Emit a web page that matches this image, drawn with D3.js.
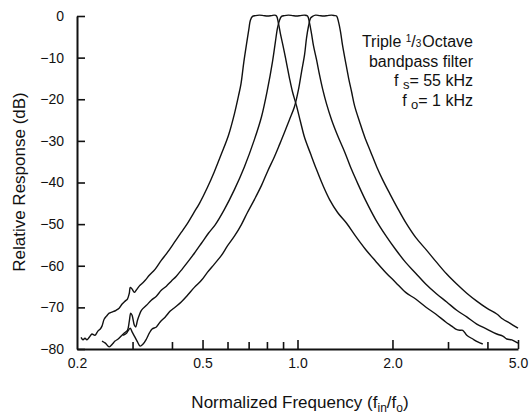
<!DOCTYPE html>
<html><head><meta charset="utf-8">
<script src="https://cdn.jsdelivr.net/npm/d3@7"></script>
<style>
html,body{margin:0;padding:0;background:#fff}
svg{display:block}
text{font-family:"Liberation Sans",Arial,Helvetica,sans-serif;fill:#111}
</style>
</head><body>
<svg id="chart" width="530" height="415"></svg>
<script>
// Each curve: [normalized frequency f_in/f_o, relative response dB]
const curveA = [[0.206,-77.2],[0.209,-77.8],[0.212,-77.4],[0.215,-77.8],[0.219,-77.1],[0.223,-76.4],[0.228,-76.7],[0.233,-75.7],[0.237,-75.2],[0.240,-74.5],[0.244,-72.8],[0.248,-72.1],[0.253,-71.4],[0.259,-71.1],[0.266,-70.7],[0.272,-70.2],[0.278,-69.2],[0.284,-68.5],[0.289,-68.0],[0.293,-66.6],[0.295,-65.2],[0.299,-65.6],[0.304,-66.4],[0.308,-65.9],[0.315,-64.9],[0.322,-64.2],[0.329,-63.5],[0.339,-62.3],[0.354,-60.8],[0.370,-58.7],[0.387,-56.8],[0.407,-54.4],[0.428,-52.0],[0.448,-49.8],[0.468,-47.4],[0.489,-45.0],[0.518,-41.2],[0.545,-37.4],[0.574,-33.1],[0.604,-28.7],[0.631,-23.5],[0.650,-19.2],[0.662,-16.3],[0.676,-11.0],[0.691,-6.2],[0.702,-2.9],[0.709,-1.0],[0.720,-0.1],[0.736,0.1],[0.757,0.2],[0.780,0.1],[0.803,0.0],[0.827,0.1],[0.845,0.2],[0.858,0.0],[0.870,-1.7],[0.883,-4.3],[0.903,-7.7],[0.923,-11.3],[0.943,-14.9],[0.964,-18.2],[0.993,-21.6],[1.022,-25.4],[1.053,-29.2],[1.100,-33.1],[1.149,-36.9],[1.201,-40.5],[1.264,-44.1],[1.340,-47.2],[1.431,-49.8],[1.528,-52.9],[1.644,-56.1],[1.769,-58.9],[1.903,-61.6],[2.047,-64.0],[2.202,-66.4],[2.369,-68.0],[2.549,-69.9],[2.742,-71.6],[2.950,-73.5],[3.082,-74.5],[3.174,-75.2],[3.268,-75.5],[3.340,-75.5],[3.440,-76.7],[3.594,-77.6],[3.727,-78.3],[3.866,-78.8]];
const curveB = [[0.240,-78.1],[0.246,-78.6],[0.253,-79.5],[0.259,-78.8],[0.264,-78.1],[0.270,-77.6],[0.276,-76.9],[0.282,-76.2],[0.289,-75.5],[0.293,-73.3],[0.296,-71.4],[0.299,-71.9],[0.304,-74.3],[0.307,-74.7],[0.311,-73.1],[0.315,-71.9],[0.320,-70.7],[0.332,-69.5],[0.344,-68.3],[0.357,-67.3],[0.370,-65.9],[0.384,-64.9],[0.398,-63.7],[0.413,-62.5],[0.431,-60.8],[0.451,-58.9],[0.471,-57.0],[0.496,-54.6],[0.522,-52.2],[0.549,-50.1],[0.586,-46.5],[0.631,-41.7],[0.679,-36.2],[0.730,-29.7],[0.769,-24.2],[0.803,-17.7],[0.833,-11.0],[0.851,-6.2],[0.864,-2.9],[0.877,-1.0],[0.890,-0.1],[0.909,0.1],[0.936,0.2],[0.964,0.1],[0.993,0.0],[1.022,0.1],[1.053,0.2],[1.076,0.0],[1.092,-1.7],[1.108,-4.3],[1.124,-7.2],[1.149,-10.5],[1.174,-14.1],[1.201,-17.5],[1.236,-21.1],[1.282,-24.9],[1.340,-28.7],[1.410,-32.6],[1.484,-36.9],[1.562,-40.7],[1.644,-44.3],[1.769,-48.9],[1.903,-52.7],[2.047,-56.1],[2.202,-59.2],[2.369,-61.8],[2.549,-64.4],[2.762,-66.8],[2.972,-68.7],[3.197,-70.7],[3.440,-72.3],[3.700,-74.0],[3.981,-75.2],[4.283,-76.4],[4.475,-76.9],[4.608,-77.6],[4.779,-77.8],[5.0,-78.6]];
const curveC = [[0.280,-76.7],[0.287,-76.2],[0.291,-75.5],[0.295,-75.0],[0.299,-75.9],[0.304,-76.9],[0.311,-78.3],[0.317,-79.3],[0.324,-78.8],[0.332,-77.6],[0.339,-76.2],[0.346,-75.2],[0.357,-74.7],[0.367,-73.5],[0.381,-72.3],[0.395,-70.9],[0.410,-69.9],[0.428,-68.7],[0.448,-67.1],[0.471,-65.2],[0.496,-63.5],[0.518,-61.6],[0.545,-59.6],[0.574,-57.5],[0.599,-55.3],[0.631,-52.9],[0.664,-50.1],[0.694,-47.2],[0.730,-44.1],[0.769,-40.7],[0.803,-37.4],[0.845,-33.8],[0.877,-30.9],[0.909,-28.0],[0.943,-24.9],[0.978,-21.8],[1.007,-17.7],[1.030,-13.4],[1.053,-9.3],[1.068,-5.3],[1.084,-2.4],[1.100,-0.5],[1.116,-0.1],[1.141,0.2],[1.174,0.1],[1.209,0.0],[1.245,0.1],[1.282,0.2],[1.311,0.1],[1.330,0.0],[1.349,-1.4],[1.369,-3.8],[1.389,-7.0],[1.420,-11.0],[1.452,-14.9],[1.484,-18.2],[1.517,-21.6],[1.573,-25.4],[1.632,-29.0],[1.705,-32.6],[1.782,-36.2],[1.861,-39.3],[1.959,-42.6],[2.077,-46.2],[2.202,-49.6],[2.369,-53.2],[2.568,-56.3],[2.762,-59.2],[2.972,-62.0],[3.197,-64.4],[3.440,-66.6],[3.700,-68.5],[3.981,-70.2],[4.283,-71.6],[4.475,-72.8],[4.710,-73.8],[5.0,-75.0]];

const xMajorTicks = [0.5, 1, 2, 5];
const xMinorTicks = [0.3, 0.4, 0.6, 0.7, 0.8, 0.9, 3, 4];
const xTickLabels = [0.2, 0.5, 1, 2, 5];
const yTicks = [0, -10, -20, -30, -40, -50, -60, -70, -80];

const svg = d3.select('#chart');
const x = d3.scaleLog().domain([0.2, 5]).range([77, 518]);
const y = d3.scaleLinear().domain([-80, 0]).range([349, 16]);

// curves
const line = d3.line().x(d => x(d[0])).y(d => y(d[1])).curve(d3.curveCatmullRom.alpha(0.5));
svg.append('g').selectAll('path').data([curveA, curveB, curveC]).join('path')
  .attr('d', line).attr('fill', 'none').attr('stroke', '#111').attr('stroke-width', 1.4)
  .attr('stroke-linejoin', 'round');

// y axis
const yAxis = svg.append('g').attr('transform', 'translate(77,0)')
  .call(d3.axisLeft(y).tickValues(yTicks).tickSize(-8).tickSizeOuter(0).tickPadding(13).tickFormat(d3.format('d')));
yAxis.select('.domain').attr('stroke', '#111').attr('stroke-width', 2);
yAxis.selectAll('.tick line').attr('stroke', '#111').attr('stroke-width', 1.6);
yAxis.selectAll('.tick text').attr('font-size', 14).attr('font-family', '"Liberation Sans",Arial,sans-serif').attr('fill', '#111');

// x axis: minor ticks
const xMinor = svg.append('g').attr('transform', 'translate(0,349)')
  .call(d3.axisBottom(x).tickValues(xMinorTicks).tickSize(-7).tickSizeOuter(0).tickFormat(''));
xMinor.select('.domain').attr('stroke', '#111').attr('stroke-width', 2);
xMinor.selectAll('.tick line').attr('stroke', '#111').attr('stroke-width', 1.6);
// major ticks
const xMajor = svg.append('g').attr('transform', 'translate(0,349)')
  .call(d3.axisBottom(x).tickValues(xMajorTicks).tickSize(-9).tickSizeOuter(0).tickFormat(''));
xMajor.select('.domain').remove();
xMajor.selectAll('.tick line').attr('stroke', '#111').attr('stroke-width', 1.6);
// labels
const xLab = svg.append('g').attr('transform', 'translate(0,349)')
  .call(d3.axisBottom(x).tickValues(xTickLabels).tickSize(0).tickPadding(9).tickFormat(d3.format('.1f')));
xLab.select('.domain').remove();
xLab.selectAll('.tick text').attr('font-size', 14).attr('font-family', '"Liberation Sans",Arial,sans-serif').attr('fill', '#111');

// axis titles
const xt = svg.append('text').attr('x', 300).attr('y', 408).attr('text-anchor', 'middle').attr('font-size', 17);
xt.append('tspan').text('Normalized Frequency (f');
xt.append('tspan').attr('font-size', 12).attr('dy', 4).text('in');
xt.append('tspan').attr('dy', -4).text('/f');
xt.append('tspan').attr('font-size', 12).attr('dy', 4).text('o');
xt.append('tspan').attr('dy', -4).text(')');

svg.append('text').attr('transform', 'translate(25,182) rotate(-90)').attr('text-anchor', 'middle')
  .attr('font-size', 17).text('Relative Response (dB)');

// annotation
const ax = 473;
const t1 = svg.append('text').attr('x', ax).attr('y', 47).attr('text-anchor', 'end').attr('font-size', 16);
t1.append('tspan').text('Triple ');
t1.append('tspan').attr('font-size', 10).attr('dy', -5).text('1');
t1.append('tspan').attr('dy', 5).text('/');
t1.append('tspan').attr('font-size', 10).text('3');
t1.append('tspan').attr('dx', 1).text('Octave');
svg.append('text').attr('x', ax).attr('y', 67).attr('text-anchor', 'end').attr('font-size', 16).text('bandpass filter');
const t3 = svg.append('text').attr('x', ax).attr('y', 86).attr('text-anchor', 'end').attr('font-size', 16);
t3.append('tspan').text('f ');
t3.append('tspan').attr('font-size', 13).attr('dy', 2.5).text('s');
t3.append('tspan').attr('dy', -2.5).text('= 55 kHz');
const t4 = svg.append('text').attr('x', ax).attr('y', 106).attr('text-anchor', 'end').attr('font-size', 16);
t4.append('tspan').text('f ');
t4.append('tspan').attr('font-size', 13).attr('dy', 2.5).text('o');
t4.append('tspan').attr('dy', -2.5).text('= 1 kHz');
</script>
</body></html>
